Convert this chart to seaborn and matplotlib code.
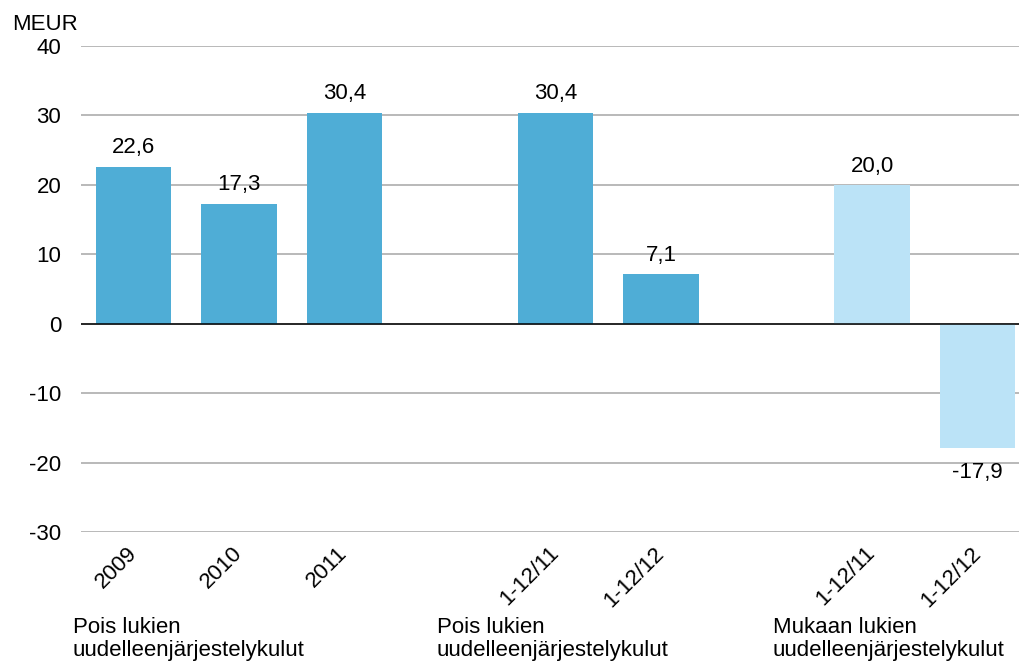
import matplotlib
matplotlib.use("Agg")
import matplotlib.pyplot as plt
import seaborn as sns
import pandas as pd

# Operating result, MEUR
categories = ["2009", "2010", "2011", "1-12/11", "1-12/12", "1-12/11", "1-12/12"]
values = [22.6, 17.3, 30.4, 30.4, 7.1, 20.0, -17.9]
groups = [0, 0, 0, 1, 1, 2, 2]
group_labels = [
    "Pois lukien\nuudelleenjärjestelykulut",
    "Pois lukien\nuudelleenjärjestelykulut",
    "Mukaan lukien\nuudelleenjärjestelykulut",
]
y_ticks = [-30, -20, -10, 0, 10, 20, 30, 40]

sns.set_theme(style="white")
plt.rcParams["font.family"] = ["Liberation Sans", "DejaVu Sans"]
plt.rcParams["font.size"] = 16
plt.rcParams["text.color"] = "black"
plt.rcParams["xtick.color"] = "black"
plt.rcParams["ytick.color"] = "black"

# one empty slot between groups
positions = [i + g for i, g in enumerate(groups)]
df = pd.DataFrame({"pos": positions, "value": values,
                   "kind": ["light" if g == 2 else "dark" for g in groups]})

W, H = 1019, 666
fig = plt.figure(figsize=(W / 100, H / 100), dpi=100)
ax = fig.add_axes([80.75 / W, 134 / H, (W - 80.75) / W, (620 - 134) / H])

sns.barplot(data=df, x="pos", y="value", hue="kind", native_scale=True,
            palette={"dark": "#4FADD6", "light": "#BBE3F7"}, dodge=False,
            width=0.715, legend=False, saturation=1, linewidth=0,
            ax=ax, zorder=2)

ax.set_xlim(-0.5, 8 + (W - 977.5) / 105.5)
ax.set_ylim(-30, 40)
ax.set_yticks(y_ticks)
ax.set_yticklabels([str(t) for t in y_ticks], fontsize=16)
ax.yaxis.grid(True, color="#A6A6A6", linewidth=1.1, zorder=0)
ax.axhline(0, color="black", linewidth=1.1, zorder=3)
for s in ax.spines.values():
    s.set_visible(False)
ax.tick_params(axis="both", length=0)
ax.tick_params(axis="y", pad=14)
ax.set_xlabel("")
ax.set_ylabel("")

ax.set_xticks(positions)
ax.set_xticklabels(categories, rotation=45, ha="right", va="center",
                   rotation_mode="anchor", fontsize=16)
ax.tick_params(axis="x", pad=13)

# value labels: above positive bars, below negative ones
for c in ax.containers:
    for patch, v in zip(c.patches, c.datavalues):
        x = patch.get_x() + patch.get_width() / 2
        txt = f"{v:.1f}".replace(".", ",")
        if v >= 0:
            ax.annotate(txt, (x, v), xytext=(0, 6), textcoords="offset points",
                        ha="center", va="bottom", fontsize=16)
        else:
            ax.annotate(txt, (x, v), xytext=(0, -10), textcoords="offset points",
                        ha="center", va="top", fontsize=16)

fig.text(12 / W, 1 - 30 / H, "MEUR", fontsize=16, va="baseline", ha="left")

for x_px, lab in zip([73, 437, 773], group_labels):
    fig.text(x_px / W, 1 - 617 / H, lab, fontsize=16, va="top", ha="left",
             linespacing=1.12)

fig.savefig("out.png", dpi=100)
